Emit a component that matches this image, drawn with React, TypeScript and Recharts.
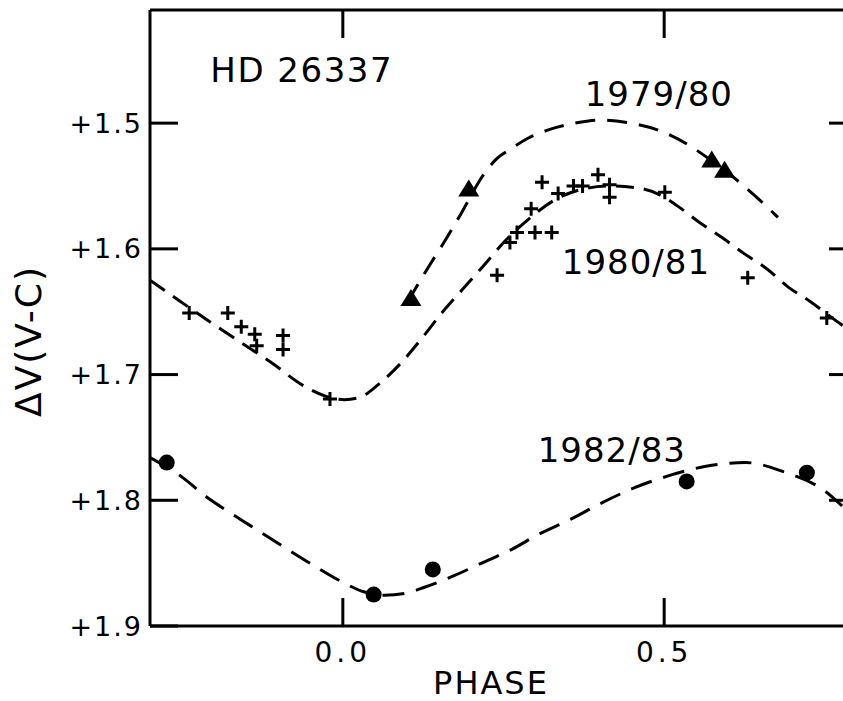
import { ComposedChart, Line, Scatter, XAxis, YAxis, ReferenceDot } from "recharts";

const FONT = "DejaVu Sans, sans-serif";
const INK = "#000";

const phaseTicks = [0, 0.5];
const dvTicks = [1.5, 1.6, 1.7, 1.8, 1.9];
const dvTicksRight = [1.5, 1.6, 1.7, 1.8];

// observations: [phase, dV]
const obs7980: [number, number][] = [
  [0.106, 1.639],
  [0.196, 1.552],
  [0.574, 1.529],
  [0.594, 1.537],
];

const obs8081: [number, number][] = [
  [-0.239, 1.651],
  [-0.179, 1.651],
  [-0.158, 1.662],
  [-0.137, 1.668],
  [-0.134, 1.677],
  [-0.093, 1.669],
  [-0.093, 1.68],
  [-0.02, 1.7195],
  [0.24, 1.621],
  [0.26, 1.595],
  [0.271, 1.587],
  [0.299, 1.587],
  [0.325, 1.587],
  [0.293, 1.568],
  [0.31, 1.547],
  [0.335, 1.556],
  [0.359, 1.55],
  [0.373, 1.55],
  [0.397, 1.541],
  [0.415, 1.549],
  [0.415, 1.559],
  [0.501, 1.555],
  [0.63, 1.623],
  [0.753, 1.655],
];

const obs8283: [number, number][] = [
  [-0.274, 1.77],
  [0.048, 1.875],
  [0.14, 1.855],
  [0.535, 1.785],
  [0.722, 1.778],
];

// fitted curves
const fit7980: [number, number][] = [
  [0.101, 1.642],
  [0.135, 1.613],
  [0.162, 1.591],
  [0.185, 1.571],
  [0.219, 1.541],
  [0.238, 1.529],
  [0.26, 1.521],
  [0.288, 1.512],
  [0.322, 1.505],
  [0.361, 1.5],
  [0.4, 1.4975],
  [0.447, 1.5],
  [0.493, 1.506],
  [0.54, 1.518],
  [0.574, 1.53],
  [0.61, 1.544],
  [0.644, 1.559],
  [0.677, 1.575],
];

const fit8081: [number, number][] = [
  [-0.3, 1.625],
  [-0.255, 1.641],
  [-0.204, 1.659],
  [-0.163, 1.673],
  [-0.107, 1.692],
  [-0.064, 1.708],
  [-0.028, 1.717],
  [0.003, 1.72],
  [0.027, 1.718],
  [0.055, 1.708],
  [0.092, 1.69],
  [0.12, 1.673],
  [0.154, 1.651],
  [0.185, 1.633],
  [0.218, 1.614],
  [0.252, 1.594],
  [0.291, 1.5755],
  [0.33, 1.561],
  [0.369, 1.553],
  [0.415, 1.55],
  [0.464, 1.552],
  [0.493, 1.557],
  [0.521, 1.566],
  [0.555, 1.579],
  [0.59, 1.591],
  [0.625, 1.604],
  [0.66, 1.616],
  [0.692, 1.63],
  [0.726, 1.6415],
  [0.778, 1.661],
  [0.8, 1.668],
];

const fit8283: [number, number][] = [
  [-0.3, 1.766],
  [-0.249, 1.782],
  [-0.213, 1.797],
  [-0.172, 1.811],
  [-0.132, 1.824],
  [-0.089, 1.838],
  [-0.045, 1.852],
  [-0.001, 1.865],
  [0.034, 1.873],
  [0.065, 1.8755],
  [0.097, 1.874],
  [0.128, 1.869],
  [0.173, 1.86],
  [0.216, 1.85],
  [0.263, 1.839],
  [0.305, 1.827],
  [0.355, 1.815],
  [0.403, 1.802],
  [0.454, 1.79],
  [0.51, 1.78],
  [0.565, 1.773],
  [0.627, 1.77],
  [0.684, 1.777],
  [0.751, 1.793],
  [0.778, 1.805],
  [0.8, 1.815],
];

const pts = (a: [number, number][]) => a.map(([x, y]) => ({ x, y }));

const Triangle = (p: any) => (
  <path
    d={`M${p.cx},${p.cy - 9}L${p.cx + 10.5},${p.cy + 8}L${p.cx - 10.5},${p.cy + 8}Z`}
    fill={INK}
  />
);

const Plus = (p: any) => (
  <path
    d={`M${p.cx - 7},${p.cy}H${p.cx + 7}M${p.cx},${p.cy - 7}V${p.cy + 7}`}
    stroke={INK}
    strokeWidth={3}
    fill="none"
  />
);

const Dot = (p: any) => <circle cx={p.cx} cy={p.cy} r={8} fill={INK} />;

const yTickText = { fill: INK, fontSize: 27, fontFamily: FONT, letterSpacing: 2 };
const xTickText = { fill: INK, fontSize: 28, fontFamily: FONT, letterSpacing: 4 };
const frame = { stroke: INK, strokeWidth: 3 };
const blank = () => "";

const note = (value: string, size: number, spacing: number) => ({
  value,
  position: "center" as const,
  fill: INK,
  fontSize: size,
  fontFamily: FONT,
  letterSpacing: spacing,
});

const dashed = {
  xAxisId: "b",
  yAxisId: "l",
  dataKey: "y",
  type: "monotone" as const,
  stroke: INK,
  strokeWidth: 3,
  dot: false,
  activeDot: false,
  isAnimationActive: false,
};

export default function App() {
  return (
    <div
      style={{
        position: "absolute",
        left: 0,
        top: 0,
        width: 843,
        height: 701,
        overflow: "hidden",
        background: "#fff",
      }}
    >
      <ComposedChart width={870} height={701} margin={{ top: 10, right: 13, bottom: 0, left: 0 }}>
        <XAxis
          xAxisId="b"
          type="number"
          dataKey="x"
          domain={[-0.3, 0.8]}
          allowDataOverflow
          ticks={phaseTicks}
          tickFormatter={(v: number) => v.toFixed(1)}
          height={75}
          tickSize={0}
          tickMargin={16}
          tickLine={false}
          axisLine={frame}
          tick={xTickText}
          label={{
            content: () => (
              <text x={491} y={683} textAnchor="middle" dominantBaseline="central" fill={INK} fontSize={32} fontFamily={FONT} letterSpacing={2}>
                PHASE
              </text>
            ),
          }}
        />
        {/* inward tick marks: bottom, top, left, right */}
        <XAxis
          xAxisId="bt"
          type="number"
          dataKey="x"
          domain={[-0.3, 0.8]}
          allowDataOverflow
          ticks={phaseTicks}
          tickFormatter={blank}
          mirror
          height={1}
          tickSize={28}
          tickLine={frame}
          axisLine={false}
        />
        <XAxis
          xAxisId="t"
          orientation="top"
          type="number"
          dataKey="x"
          domain={[-0.3, 0.8]}
          allowDataOverflow
          ticks={phaseTicks}
          tickFormatter={blank}
          mirror
          height={1}
          tickSize={28}
          tickLine={frame}
          axisLine={frame}
        />
        <YAxis
          yAxisId="l"
          type="number"
          dataKey="y"
          domain={[1.41, 1.9]}
          reversed
          allowDataOverflow
          ticks={dvTicks}
          tickFormatter={(v: number) => "+" + v.toFixed(1)}
          width={150}
          tickSize={0}
          tickMargin={7}
          tickLine={false}
          axisLine={frame}
          tick={yTickText}
          label={{
            content: () => (
              <text
                x={28}
                y={341}
                transform="rotate(-90 28 341)"
                textAnchor="middle"
                dominantBaseline="central"
                fill={INK}
                fontSize={36}
                fontFamily={FONT}
                letterSpacing={2}
              >
                ΔV(V-C)
              </text>
            ),
          }}
        />
        <YAxis
          yAxisId="lt"
          type="number"
          dataKey="y"
          domain={[1.41, 1.9]}
          reversed
          allowDataOverflow
          ticks={dvTicks}
          tickFormatter={blank}
          mirror
          width={1}
          tickSize={28}
          tickLine={frame}
          axisLine={false}
        />
        <YAxis
          yAxisId="r"
          orientation="right"
          type="number"
          dataKey="y"
          domain={[1.41, 1.9]}
          reversed
          allowDataOverflow
          ticks={dvTicksRight}
          tickFormatter={blank}
          mirror
          width={1}
          tickSize={28}
          tickLine={frame}
          axisLine={frame}
        />

        <Line {...dashed} data={pts(fit7980)} strokeDasharray="20 12" />
        <Line {...dashed} data={pts(fit8081)} strokeDasharray="18 10" />
        <Line {...dashed} data={pts(fit8283)} strokeDasharray="22 12" />

        <Scatter xAxisId="b" yAxisId="l" data={pts(obs7980)} shape={Triangle} isAnimationActive={false} />
        <Scatter xAxisId="b" yAxisId="l" data={pts(obs8081)} shape={Plus} isAnimationActive={false} />
        <Scatter xAxisId="b" yAxisId="l" data={pts(obs8283)} shape={Dot} isAnimationActive={false} />

        <ReferenceDot xAxisId="b" yAxisId="l" x={-0.064} y={1.4577} r={0} fill="none" stroke="none" label={note("HD 26337", 34, 1.5)} />
        <ReferenceDot xAxisId="b" yAxisId="l" x={0.4916} y={1.4768} r={0} fill="none" stroke="none" label={note("1979/80", 34, 1)} />
        <ReferenceDot xAxisId="b" yAxisId="l" x={0.456} y={1.6105} r={0} fill="none" stroke="none" label={note("1980/81", 34, 1)} />
        <ReferenceDot xAxisId="b" yAxisId="l" x={0.4185} y={1.76} r={0} fill="none" stroke="none" label={note("1982/83", 34, 1)} />
      </ComposedChart>
    </div>
  );
}
